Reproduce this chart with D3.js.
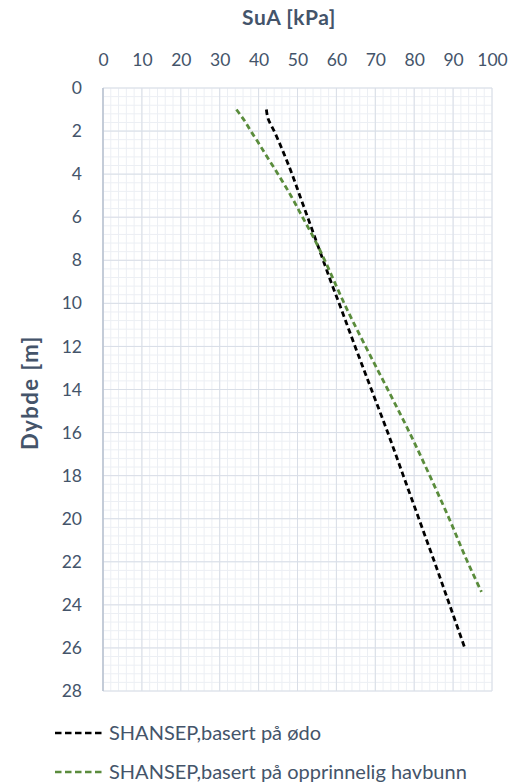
<!DOCTYPE html>
<html><head><meta charset="utf-8">
<script src="https://cdn.jsdelivr.net/npm/d3@7"></script>
<style>body{margin:0;background:#fff}svg{display:block}</style>
</head><body>
<script>
const xTicks = [0,10,20,30,40,50,60,70,80,90,100];
const yTicks = [0,2,4,6,8,10,12,14,16,18,20,22,24,26,28];
const seriesNames = ["SHANSEP,basert på ødo","SHANSEP,basert på opprinnelig havbunn"];
const odoDepth = [1.0,1.4,2.0,3.0,4.0,5.0,6.0,7.0,8.0,9.0,10.0,12.0,14.0,16.0,18.0,20.0,22.0,24.0,26.0];
const odoSuA   = [42.0,42.4,44.0,46.4,48.6,50.6,52.6,54.6,56.6,58.6,60.7,64.8,69.0,73.2,77.2,81.2,85.2,89.1,93.0];
const havDepth = [1.0,1.5,2.0,2.5,3.0,4.0,5.0,6.0,7.0,8.0,9.0,10.0,12.0,14.0,16.0,18.0,20.0,22.0,23.4];
const havSuA   = [34.3,36.3,38.0,39.8,41.5,45.0,48.3,51.3,54.3,57.0,59.5,62.0,67.5,73.2,78.8,84.0,89.0,93.7,97.3];
const colors = ["#000000","#5a8c3c"];

const W=509,H=784;
const m={left:103,right:17,top:88,bottom:93};
const svg=d3.select("body").append("svg").attr("width",W).attr("height",H);
const x=d3.scaleLinear().domain([0,100]).range([m.left,W-m.right]);
const y=d3.scaleLinear().domain([0,28]).range([m.top,H-m.bottom]);
const font="Lato, 'Open Sans', sans-serif";
const txt="#44546a";

// minor grid
const minorX=d3.range(0,100.01,2), minorY=d3.range(0,28.01,0.4);
svg.append("g").selectAll("line").data(minorX).join("line")
 .attr("x1",d=>x(d)).attr("x2",d=>x(d)).attr("y1",y(0)).attr("y2",y(28))
 .attr("stroke","#eceff4").attr("stroke-width",1);
svg.append("g").selectAll("line").data(minorY).join("line")
 .attr("y1",d=>y(d)).attr("y2",d=>y(d)).attr("x1",x(0)).attr("x2",x(100))
 .attr("stroke","#eceff4").attr("stroke-width",1);
// major grid
svg.append("g").selectAll("line").data(xTicks).join("line")
 .attr("x1",d=>x(d)).attr("x2",d=>x(d)).attr("y1",y(0)).attr("y2",y(28))
 .attr("stroke","#d9dee7").attr("stroke-width",1);
svg.append("g").selectAll("line").data(yTicks).join("line")
 .attr("y1",d=>y(d)).attr("y2",d=>y(d)).attr("x1",x(0)).attr("x2",x(100))
 .attr("stroke","#d9dee7").attr("stroke-width",1);
// left axis line
svg.append("line").attr("x1",x(0)).attr("x2",x(0)).attr("y1",y(0)).attr("y2",y(28))
 .attr("stroke","#b9c2d0").attr("stroke-width",1.5);

// axes via d3
const xa=svg.append("g").attr("transform",`translate(0,${y(0)-28})`)
 .call(d3.axisTop(x).tickValues(xTicks).tickSize(0).tickPadding(0));
xa.select(".domain").remove();
xa.selectAll("text").attr("font-family",font).attr("font-size",17.5).attr("fill",txt).attr("dy","0.35em");
const ya=svg.append("g").attr("transform",`translate(${x(0)-21},0)`)
 .call(d3.axisLeft(y).tickValues(yTicks).tickSize(0).tickPadding(0));
ya.select(".domain").remove();
ya.selectAll("text").attr("font-family",font).attr("font-size",17.5).attr("fill",txt);

// titles
svg.append("text").attr("x",289).attr("y",25).attr("text-anchor","middle")
 .attr("font-family",font).attr("font-weight","bold").attr("font-size",21).attr("letter-spacing","0.5px").attr("fill",txt).text("SuA [kPa]");
svg.append("text").attr("transform",`translate(38,${(y(0)+y(28))/2+3}) rotate(-90)`)
 .attr("text-anchor","middle").attr("font-family",font).attr("font-weight","bold").attr("font-size",22).attr("letter-spacing","1.5px").attr("fill",txt).text("Dybde [m]");

// series
const line=d3.line().x(d=>x(d[1])).y(d=>y(d[0])).curve(d3.curveMonotoneY);
const data=[d3.zip(odoDepth,odoSuA), d3.zip(havDepth,havSuA)];
data.forEach((s,i)=>{
 svg.append("path").datum(s).attr("d",line).attr("fill","none")
  .attr("stroke",colors[i]).attr("stroke-width",2.8).attr("stroke-dasharray","5.5,3.5");
});

// legend
const lg=svg.append("g");
seriesNames.forEach((n,i)=>{
 const ly=733+i*39;
 lg.append("line").attr("x1",55).attr("x2",104).attr("y1",ly).attr("y2",ly)
  .attr("stroke",colors[i]).attr("stroke-width",2.5).attr("stroke-dasharray","6.5,3.5");
 lg.append("text").attr("x",109).attr("y",ly).attr("dy","0.36em")
  .attr("font-family",font).attr("font-size",20).attr("fill",txt).text(n);
});
</script>
</body></html>
